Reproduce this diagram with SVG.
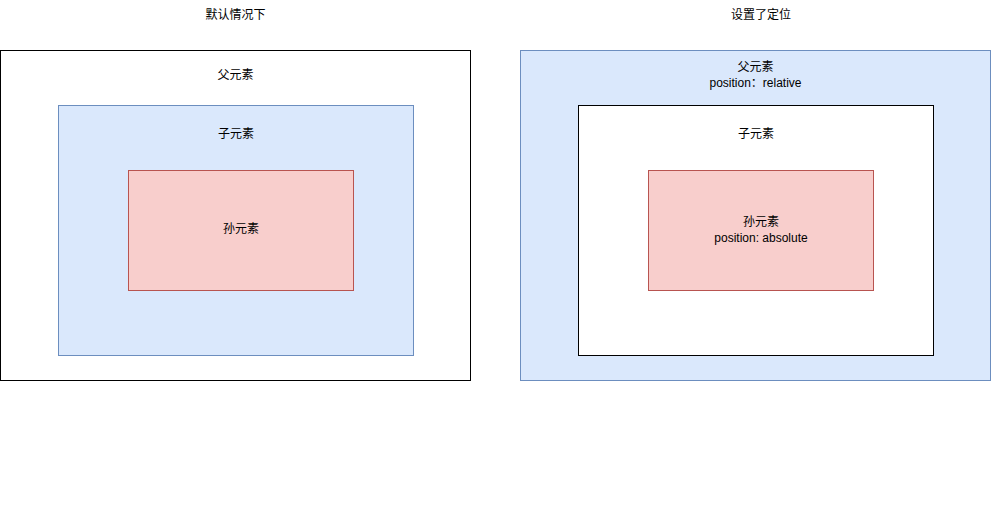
<svg xmlns="http://www.w3.org/2000/svg" width="991" height="521" viewBox="0 0 991 521">
<style>
text{font-family:"Liberation Sans","Noto Sans CJK SC",sans-serif;font-size:12px;fill:#000;text-anchor:middle;dominant-baseline:central}
.plain{fill:#fff;stroke:#000;stroke-width:1}
.blue{fill:#dae8fc;stroke:#6c8ebf;stroke-width:1}
.red{fill:#f8cecc;stroke:#b85450;stroke-width:1}
</style>
<rect width="991" height="521" fill="#fff"/>
<g id="title-left"><text x="235.5" y="15">默认情况下</text></g>
<g id="title-right"><text x="761" y="15">设置了定位</text></g>
<g id="parent-left">
<rect class="plain" x="0.5" y="50.5" width="470" height="330"/>
<text x="235.5" y="75">父元素</text>
</g>
<g id="child-left">
<rect class="blue" x="58.5" y="105.5" width="355" height="250"/>
<text x="236" y="134">子元素</text>
</g>
<g id="grandchild-left">
<rect class="red" x="128.5" y="170.5" width="225" height="120"/>
<text x="241" y="229">孙元素</text>
</g>
<g id="parent-right">
<rect class="blue" x="520.5" y="50.5" width="470" height="330"/>
<text x="755.5" y="67">父元素</text>
<text x="755.5" y="83">position：relative</text>
</g>
<g id="child-right">
<rect class="plain" x="578.5" y="105.5" width="355" height="250"/>
<text x="756" y="134">子元素</text>
</g>
<g id="grandchild-right">
<rect class="red" x="648.5" y="170.5" width="225" height="120"/>
<text x="761" y="222">孙元素</text>
<text x="761" y="238">position: absolute</text>
</g>
<g id="connectors"></g>
</svg>
